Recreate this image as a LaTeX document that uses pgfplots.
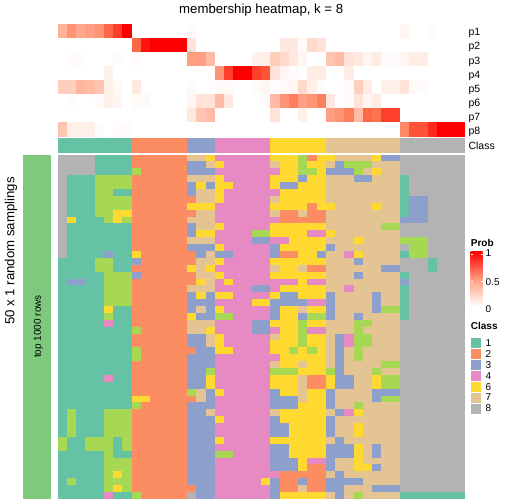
\documentclass[border=0pt]{standalone}
\usepackage{fontspec}
\setmainfont{Liberation Sans}
\usepackage{pgfplots}
\usepackage{pgfplotstable}
\pgfplotsset{compat=1.18}

\definecolor{c1}{RGB}{102,194,165}
\definecolor{c2}{RGB}{252,141,98}
\definecolor{c3}{RGB}{141,160,203}
\definecolor{c4}{RGB}{231,138,195}
\definecolor{c5}{RGB}{166,216,84}
\definecolor{c6}{RGB}{255,217,47}
\definecolor{c7}{RGB}{229,196,148}
\definecolor{c8}{RGB}{179,179,179}
\definecolor{accg}{RGB}{127,201,127}
\definecolor{pmid}{RGB}{255,158,129}

\pgfdeclareplotmark{mcell}{\pgfpathrectangle{\pgfpoint{-4.75bp}{-3.57bp}}{\pgfpoint{9.5bp}{7.14bp}}\pgfusepathqfill}
\pgfdeclareplotmark{pcell}{\pgfpathrectangle{\pgfpoint{-4.75bp}{-7.15bp}}{\pgfpoint{9.5bp}{14.3bp}}\pgfusepathqfill}
\pgfdeclareplotmark{ccell}{\pgfpathrectangle{\pgfpoint{-4.75bp}{-7.5bp}}{\pgfpoint{9.5bp}{15bp}}\pgfusepathqfill}

\pgfplotsset{hm/.style={scale only axis, hide axis, anchor=south west, clip=false},
  cls/.style={scatter/classes={1={c1},2={c2},3={c3},4={c4},5={c5},6={c6},7={c7},8={c8}}}}

% membership probabilities p1..p8 (rows) for 44 samples (columns)
\pgfplotstableread[header=false]{
0.4 0.55 0.45 0.5 0.55 0.75 0.85 1  0 0 0 0 0 0  0.03 0 0  0 0 0 0 0 0  0 0 0 0 0 0  0 0 0 0 0 0 0 0  0.05 0 0 0.03 0 0 0
0 0 0 0 0 0 0 0  0.75 0.95 1 1 1 1  0.15 0 0  0 0 0 0 0 0  0 0.12 0.12 0.03 0.2 0.15  0 0 0 0 0 0 0 0  0 0 0 0 0 0 0
0 0.02 0.02 0 0 0 0.02 0  0.03 0 0 0 0 0  0.5 0.5 0.35  0 0 0 0 0.07 0.08  0.25 0.2 0.12 0.05 0 0  0.3 0.35 0.15 0.12 0.05 0.1 0.02 0.02  0.05 0.1 0.1 0 0 0 0
0 0 0 0 0 0.07 0 0  0 0 0 0 0 0  0 0 0  0.55 0.85 1 1 0.85 0.8  0.15 0.05 0.02 0 0.1 0.1  0 0 0.1 0 0 0 0 0  0 0 0 0 0 0 0
0.25 0.25 0.38 0.35 0.3 0.08 0.03 0  0.12 0 0 0 0 0  0.03 0 0  0.03 0.03 0 0 0.02 0.05  0 0.03 0.05 0.2 0.08 0.02  0 0 0.03 0.25 0.1 0 0.08 0.08  0.15 0.02 0.02 0 0 0 0
0 0.02 0 0 0.02 0.08 0.05 0  0.03 0.03 0 0 0 0  0.05 0.15 0.15  0.35 0.12 0 0 0 0.02  0.35 0.55 0.65 0.5 0.55 0.65  0.12 0 0.03 0.15 0.05 0.1 0 0  0 0 0 0 0 0 0
0 0 0 0 0 0 0 0  0 0 0 0 0 0  0.12 0.3 0.35  0 0 0 0 0 0  0.15 0 0 0.08 0 0  0.5 0.55 0.65 0.35 0.75 0.7 0.85 0.85  0 0 0 0 0 0 0
0.3 0.08 0.08 0.08 0.02 0 0.02 0.02  0 0 0 0 0 0  0 0 0  0 0 0 0 0 0  0 0 0 0 0 0  0 0 0 0 0 0 0 0  0.6 0.8 0.8 0.9 1 1 1
}\probtable

% class labels of the 50 random samplings (rows) for 44 samples (columns)
\pgfplotstableread[header=false]{
8 8 8 8 1 1 1 1 2 2 2 2 2 2 7 7 6 4 4 4 4 4  4 6 6 6 5 2 6 6 7 7 7 7 6 3 3 8 8 8 8 8 8 8
8 8 8 8 1 1 1 1 2 2 2 2 2 2 3 3 7 6 4 4 4 4  4 7 6 6 5 6 6 7 3 5 5 5 7 7 7 8 8 8 8 8 8 8
8 8 8 8 1 1 1 1 5 2 2 2 2 2 3 3 3 4 4 4 4 4  4 4 6 6 5 5 6 3 3 3 5 7 6 7 7 8 8 8 8 8 8 8
8 1 1 1 5 5 5 5 2 2 2 2 2 2 7 7 7 6 4 4 4 4  4 6 6 6 3 6 6 7 7 7 3 3 7 7 7 1 8 8 8 8 8 8
8 1 1 1 5 5 5 5 2 2 2 2 2 2 3 6 3 6 6 4 4 4  4 6 3 3 6 6 6 7 7 7 7 7 7 7 7 1 8 8 8 8 8 8
8 1 1 1 5 5 1 1 2 2 2 2 2 2 3 7 7 6 4 4 4 4  4 4 6 6 6 6 6 7 7 7 7 7 7 7 7 1 8 8 8 8 8 8
8 1 1 1 5 5 5 5 2 2 2 2 2 2 2 7 7 6 4 4 4 4  4 7 6 6 6 6 6 7 7 7 7 7 7 7 7 1 3 3 8 8 8 8
8 1 1 1 5 5 5 5 2 2 2 2 2 2 6 6 6 4 4 4 4 4  4 6 6 6 6 2 6 6 7 7 7 7 6 7 7 1 3 3 8 8 8 8
8 1 1 1 5 5 6 6 2 2 2 2 2 2 2 7 7 4 4 4 4 4  4 7 2 2 7 2 2 7 7 7 7 7 7 7 7 1 3 3 8 8 8 8
8 6 1 1 1 5 6 5 2 2 2 2 2 2 7 7 7 4 4 4 4 4  4 4 2 2 2 2 2 7 7 7 7 7 7 7 7 3 3 3 8 8 8 8
8 1 1 1 1 1 1 1 2 2 2 2 2 2 3 7 7 6 4 4 4 4  4 6 6 6 6 6 6 7 7 7 7 7 7 5 5 8 8 8 8 8 8 8
8 1 1 1 1 1 1 1 2 2 2 2 2 2 3 6 6 4 4 4 4 5  5 6 6 6 6 4 4 6 7 7 7 7 7 7 7 8 8 8 8 8 8 8
8 1 1 1 1 1 1 1 2 2 2 2 2 2 7 7 7 4 4 4 4 3  3 4 4 6 6 6 6 7 7 7 6 7 7 7 7 5 5 5 8 8 8 8
8 1 1 1 1 1 1 1 2 2 2 2 2 2 3 3 3 6 4 4 4 4  4 3 6 6 6 6 6 3 7 7 7 7 7 7 7 8 5 5 8 8 8 8
8 1 1 1 1 3 1 1 6 2 2 2 2 2 2 3 7 3 3 4 4 4  4 3 2 2 6 6 3 7 7 4 6 7 7 7 7 1 5 5 8 8 8 8
1 1 1 1 5 5 1 1 3 2 2 2 2 2 2 7 7 6 4 4 4 4  4 6 6 6 6 6 6 7 7 7 3 7 7 7 7 8 8 8 1 8 8 8
1 1 1 1 5 5 1 1 2 2 2 2 2 2 6 7 6 4 4 4 4 4  4 7 6 6 7 2 2 7 7 7 7 7 7 3 3 8 8 8 1 8 8 8
1 1 1 1 1 5 5 5 3 2 2 2 2 2 2 7 7 6 4 4 4 4  4 6 6 6 6 6 6 7 7 7 3 7 7 7 7 1 8 8 8 8 8 8
1 3 3 1 1 5 5 5 2 2 2 2 2 2 2 6 7 4 6 4 4 4  4 4 4 4 6 4 4 7 7 7 7 7 7 7 7 3 8 8 8 8 8 8
1 1 1 1 1 5 5 5 2 2 2 2 2 2 7 7 7 4 4 4 4 3  3 4 6 6 6 6 6 7 7 4 7 7 7 7 7 1 8 8 8 8 8 8
1 1 1 1 1 5 5 5 2 2 2 2 2 2 3 6 3 6 6 4 4 4  4 6 3 3 6 6 6 3 7 7 7 7 3 7 7 1 8 8 8 8 8 8
1 1 1 1 1 5 5 5 2 2 2 2 2 2 3 3 3 4 4 4 4 6  6 3 3 3 3 4 4 3 7 7 7 7 3 7 7 1 8 8 8 8 8 8
1 1 1 1 1 6 1 1 2 2 2 2 2 2 3 7 3 6 4 4 4 4  4 3 6 6 7 6 6 3 7 7 7 7 3 5 5 1 8 8 8 8 8 8
1 1 1 1 1 5 1 1 2 2 2 2 2 2 6 3 3 5 5 4 4 4  4 3 6 6 3 5 5 3 7 7 3 7 7 7 7 1 8 8 8 8 8 8
1 1 1 1 1 4 1 1 2 2 2 2 2 2 7 7 7 4 4 4 4 3  3 6 6 6 5 6 6 7 7 7 5 5 7 7 7 8 8 8 8 8 8 8
1 1 1 1 1 1 1 1 5 2 2 2 2 2 7 7 6 4 4 4 4 3  3 4 6 6 5 4 4 7 7 7 5 7 7 7 7 8 8 8 8 8 8 8
1 1 1 1 1 1 1 1 2 2 2 2 2 2 3 3 7 6 4 4 4 4  4 7 6 6 5 6 6 7 3 4 5 5 7 7 7 8 8 8 8 8 8 8
1 1 1 1 1 1 1 1 2 2 2 2 2 2 3 3 7 6 4 4 4 4  4 6 6 6 5 6 6 7 3 4 5 5 7 7 7 8 8 8 8 8 8 8
1 1 1 1 1 1 1 1 5 2 2 2 2 2 2 3 3 6 6 4 4 4  4 6 6 5 6 5 6 7 3 7 5 7 7 7 7 8 8 8 8 8 8 8
1 1 1 1 1 1 1 1 5 2 2 2 2 2 3 3 3 4 4 4 4 4  4 4 6 6 6 6 6 7 3 7 5 7 7 7 7 8 8 8 8 8 8 8
1 1 1 1 1 1 1 1 2 2 2 2 2 2 3 3 3 4 4 4 4 4  4 7 6 6 7 6 6 7 3 7 7 7 7 5 5 8 8 8 8 8 8 8
1 1 1 1 1 1 1 1 2 2 2 2 2 2 3 3 5 4 4 4 4 4  4 5 5 5 6 6 6 5 3 7 7 7 5 7 7 8 8 8 8 8 8 8
1 1 1 1 1 4 1 1 2 2 2 2 2 2 3 3 6 4 4 4 4 4  4 6 6 6 7 2 2 6 3 3 7 7 6 5 5 8 8 8 8 8 8 8
1 1 1 1 1 1 1 1 2 2 2 2 2 2 3 3 6 4 4 4 4 4  4 6 6 6 7 2 2 6 3 3 7 7 6 5 5 8 8 8 8 8 8 8
1 1 1 1 1 1 1 1 2 2 2 2 2 2 5 7 3 6 4 4 4 4  4 3 6 6 7 6 6 3 7 7 7 7 3 3 3 8 8 8 8 8 8 8
1 1 1 1 1 1 1 1 6 6 2 2 2 2 2 7 3 4 4 4 4 4  4 3 3 3 7 6 6 3 7 7 7 7 3 5 5 8 8 8 8 8 8 8
1 1 1 1 1 1 1 1 5 2 2 2 2 2 3 3 3 4 4 4 4 4  4 3 3 3 6 6 6 3 7 7 5 7 7 7 7 8 8 8 8 8 8 8
1 5 1 1 1 5 5 5 2 2 2 2 2 2 3 3 7 4 4 4 4 4  4 7 6 6 6 6 6 7 3 4 6 7 7 7 7 8 8 8 8 8 8 8
1 5 1 1 1 5 5 5 2 2 2 2 2 2 3 3 3 6 4 4 4 4  4 3 6 6 6 6 6 3 7 7 7 7 7 7 7 8 8 8 8 8 8 8
1 5 1 1 1 5 5 5 2 2 2 2 2 2 3 3 3 4 4 4 4 4  4 3 3 6 6 6 6 3 7 7 6 7 7 7 7 8 8 8 8 8 8 8
1 5 1 1 1 5 5 5 2 2 2 2 2 2 3 3 3 4 4 4 4 4  4 3 3 6 6 6 6 3 7 7 6 7 7 7 7 8 8 8 8 8 8 8
5 1 1 5 5 5 1 5 2 2 2 2 2 2 3 3 3 6 4 4 4 4  4 6 6 6 6 6 6 7 3 7 7 7 7 7 7 8 8 8 8 8 8 8
5 1 1 5 5 5 1 5 2 2 2 2 2 2 3 3 3 4 4 4 4 4  4 3 3 6 6 6 6 3 3 3 6 7 3 7 7 8 8 8 8 8 8 8
1 1 1 1 1 5 1 1 2 2 2 2 2 2 3 3 3 5 5 4 4 4  4 3 3 6 6 6 6 3 3 3 6 7 3 7 7 8 8 8 8 8 8 8
1 1 1 1 1 5 5 5 2 2 2 2 2 2 3 3 3 4 4 4 4 4  4 3 3 3 6 4 4 3 7 7 6 7 7 7 7 8 8 8 8 8 8 8
1 1 1 1 1 5 5 5 2 2 2 2 2 2 3 3 3 4 4 4 4 4  4 3 3 3 6 2 2 3 7 7 6 6 3 7 7 8 8 8 8 8 8 8
1 1 1 1 1 5 6 5 2 2 2 2 2 2 3 3 3 4 4 4 4 4  4 4 2 2 2 2 2 7 3 7 7 7 7 7 7 8 8 8 8 8 8 8
1 5 1 1 1 5 5 5 2 2 2 2 2 2 3 3 3 4 4 4 4 4  6 3 2 2 3 2 2 3 3 3 3 7 7 7 7 8 8 8 8 8 8 8
1 1 1 1 1 5 6 5 2 2 2 2 2 2 2 3 3 4 4 4 4 4  4 3 2 2 7 2 2 3 3 7 7 7 3 3 3 8 8 8 8 8 8 8
1 1 1 1 1 4 1 1 5 2 2 2 2 2 8 3 3 4 4 4 4 4  4 3 6 6 6 6 6 7 3 7 5 7 7 7 7 1 1 1 1 1 1 1
}\maintable

\begin{document}
\begin{tikzpicture}[x=1bp,y=1bp]
\useasboundingbox (0,0) rectangle (504,504);

% title
\node[anchor=base] at (261.2,490.6) {\fontsize{13.2bp}{15bp}\selectfont membership heatmap, k = 8};

% probability heatmap
\begin{axis}[hm, at={(57.7bp,367.3bp)}, width=407bp, height=112.7bp,
  xmin=-0.5, xmax=43.5, ymin=-0.5, ymax=7.5, y dir=reverse,
  colormap={prob}{rgb255=(255,255,255) rgb255=(255,207,190) rgb255=(255,158,129) rgb255=(255,104,70) rgb255=(255,0,0)},
  point meta min=0, point meta max=1]
\pgfplotsinvokeforeach{0,...,43}{
  \addplot[scatter, only marks, mark=pcell, point meta=explicit]
    table[x expr=#1, y expr=\coordindex, meta index=#1] \probtable;
}
\end{axis}

% class annotation row
\begin{axis}[hm, cls, at={(57.7bp,351.3bp)}, width=407bp, height=15bp,
  xmin=-0.5, xmax=43.5, ymin=-0.5, ymax=0.5]
\addplot[scatter, only marks, mark=ccell, point meta=explicit symbolic] coordinates {
(0,0)[1] (1,0)[1] (2,0)[1] (3,0)[1] (4,0)[1] (5,0)[1] (6,0)[1] (7,0)[1]
(8,0)[2] (9,0)[2] (10,0)[2] (11,0)[2] (12,0)[2] (13,0)[2]
(14,0)[3] (15,0)[3] (16,0)[3]
(17,0)[4] (18,0)[4] (19,0)[4] (20,0)[4] (21,0)[4] (22,0)[4]
(23,0)[6] (24,0)[6] (25,0)[6] (26,0)[6] (27,0)[6] (28,0)[6]
(29,0)[7] (30,0)[7] (31,0)[7] (32,0)[7] (33,0)[7] (34,0)[7] (35,0)[7] (36,0)[7]
(37,0)[8] (38,0)[8] (39,0)[8] (40,0)[8] (41,0)[8] (42,0)[8] (43,0)[8]};
\end{axis}

% main membership heatmap
\begin{axis}[hm, cls, at={(57.7bp,5bp)}, width=407bp, height=344.3bp,
  xmin=-0.5, xmax=43.5, ymin=-0.5, ymax=49.5, y dir=reverse]
\pgfplotsinvokeforeach{0,...,43}{
  \addplot[scatter, only marks, mark=mcell, point meta=explicit symbolic]
    table[x expr=#1, y expr=\coordindex, meta index=#1] \maintable;
}
\end{axis}

% left annotation bar
\begin{axis}[hm, at={(23.3bp,5bp)}, width=27.4bp, height=344.3bp,
  xmin=0, xmax=1, ymin=0, ymax=1]
\addplot[fill=accg, draw=none] coordinates {(0,1) (1,1)} \closedcycle;
\end{axis}
\node[rotate=90] at (38.4,177.5) {\fontsize{10bp}{12bp}\selectfont top 1000 rows};
\node[rotate=90] at (11,253) {\fontsize{13.2bp}{15bp}\selectfont 50 x 1 random samplings};

% row labels
\foreach \t [count=\i from 0] in {p1,p2,p3,p4,p5,p6,p7,p8}{
  \node[anchor=base west, inner sep=0pt] at (468.3,468.15-14.09*\i) {\fontsize{10.5bp}{12bp}\selectfont \t};
}
\node[anchor=base west, inner sep=0pt] at (468.3,354.5) {\fontsize{10.5bp}{12bp}\selectfont Class};

% Prob legend
\node[anchor=base west, inner sep=0pt] at (470.7,257.3) {\fontsize{10bp}{12bp}\selectfont\bfseries Prob};
\shade[top color=red, bottom color=white, middle color=pmid] (470.7,197.3) rectangle (482.7,252.3);
\foreach \yy in {250,222.3}{
  \draw[white, line width=0.7bp] (470.7,\yy) -- ++(2.2,0);
  \draw[white, line width=0.7bp] (482.7,\yy) -- ++(-2.2,0);
}
\node[anchor=west, inner sep=0pt] at (485.5,250.7) {\fontsize{10bp}{12bp}\selectfont 1};
\node[anchor=west, inner sep=0pt] at (485.5,222.3) {\fontsize{10bp}{12bp}\selectfont 0.5};
\node[anchor=west, inner sep=0pt] at (485.5,195) {\fontsize{10bp}{12bp}\selectfont 0};

% Class legend
\node[anchor=base west, inner sep=0pt] at (470.7,174) {\fontsize{10bp}{12bp}\selectfont\bfseries Class};
\foreach \cc/\lab [count=\i from 0] in {c1/1,c2/2,c3/3,c4/4,c6/6,c7/7,c8/8}{
  \fill[\cc, draw=white, line width=0.5bp] (470.7,155.75-10.95*\i) rectangle (481.6,166.7-10.95*\i);
  \node[anchor=west, inner sep=0pt] at (485.5,161.2-10.95*\i) {\fontsize{10bp}{12bp}\selectfont \lab};
}
\end{tikzpicture}
\end{document}
